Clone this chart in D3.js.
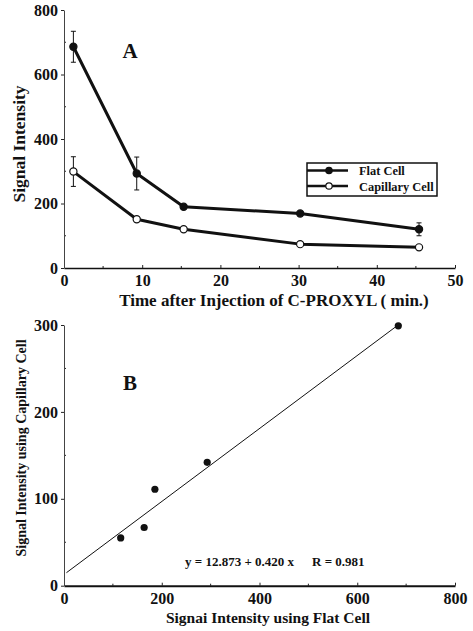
<!DOCTYPE html>
<html>
<head>
<meta charset="utf-8">
<script src="https://cdn.jsdelivr.net/npm/d3@7"></script>
<style>
  body { margin: 0; background: #fff; }
  text { font-family: "Liberation Serif", "Times New Roman", serif; font-weight: bold; fill: #111; }
</style>
</head>
<body>
<svg id="chart" width="473" height="631"></svg>
<script>
// panel A: time course
var times = [1.2, 9.3, 15.3, 30.2, 45.4]
var flatCell = [686, 293, 190, 169, 120]
var flatErr = [48, 51, 0, 0, 20]
var capCell = [299, 151, 120, 74, 64]
var capErr = [46, 8, 0, 0, 0]
var seriesNames = ["Flat Cell", "Capillary Cell"]

// panel B: capillary vs flat
var flatB = [116, 164, 186, 293, 684]
var capB = [55, 67, 111, 142, 299]
var fitIntercept = 12.873
var fitSlope = 0.420
var fitRange = [5, 686]
var eqText = "y = 12.873 + 0.420 x"
var rText = "R = 0.981"

var dims = {
    left: 64,
    right: 455,
    a: { top: 10, bottom: 268 },
    b: { top: 325, bottom: 585.7 }
}

var svg = d3.select("#chart")

function drawAxes(g, xScale, yScale, xMajor, xMinor, yMajor, yMinor, xWidth, yWidth) {
    // minor ticks, inside
    g.append("g").selectAll("line").data(xMinor).join("line")
        .attr("x1", d => xScale(d)).attr("x2", d => xScale(d))
        .attr("y1", yScale.range()[0]).attr("y2", yScale.range()[0] - 2)
        .attr("stroke", "#222").attr("stroke-width", 1)
    g.append("g").selectAll("line").data(yMinor).join("line")
        .attr("y1", d => yScale(d)).attr("y2", d => yScale(d))
        .attr("x1", xScale.range()[0]).attr("x2", xScale.range()[0] + 2)
        .attr("stroke", "#222").attr("stroke-width", 1)

    var xAxis = g.append("g")
        .attr("transform", `translate(0,${yScale.range()[0]})`)
        .call(d3.axisBottom(xScale).tickValues(xMajor).tickSizeInner(-3).tickSizeOuter(0).tickPadding(6.5))
    xAxis.select(".domain").attr("stroke", "#111").attr("stroke-width", xWidth)
    xAxis.selectAll("text").style("font-size", "16px").attr("fill", "#111")

    var yAxis = g.append("g")
        .attr("transform", `translate(${xScale.range()[0]},0)`)
        .call(d3.axisLeft(yScale).tickValues(yMajor).tickSizeInner(3).tickSizeOuter(0).tickPadding(3))
    yAxis.select(".domain").attr("stroke", "#444").attr("stroke-width", yWidth)
    yAxis.selectAll("text").style("font-size", "16px").attr("fill", "#111")
    g.selectAll(".tick line").attr("stroke", "#222")
}

// ---------- panel A ----------
var xA = d3.scaleLinear().domain([0, 50]).range([dims.left, dims.right])
var yA = d3.scaleLinear().domain([0, 800]).range([dims.a.bottom, dims.a.top])
var gA = svg.append("g")

drawAxes(gA, xA, yA, d3.range(0, 51, 10), d3.range(5, 50, 10),
    d3.range(0, 801, 200), d3.range(100, 800, 200), 1.6, 1)

var lineA = d3.line().x(d => xA(d[0])).y(d => yA(d[1]))
var seriesA = [
    { name: seriesNames[0], vals: flatCell, err: flatErr, fill: "#111" },
    { name: seriesNames[1], vals: capCell, err: capErr, fill: "#fff" }
]

seriesA.forEach(function(s) {
    var pts = times.map((t, i) => [t, s.vals[i], s.err[i]])
    gA.append("path")
        .datum(pts)
        .attr("d", lineA)
        .attr("fill", "none")
        .attr("stroke", "#111")
        .attr("stroke-width", 3)
        .attr("stroke-linejoin", "round")

    var eb = gA.append("g").selectAll("g").data(pts.filter(d => d[2] > 0)).join("g")
    eb.append("line")
        .attr("x1", d => xA(d[0])).attr("x2", d => xA(d[0]))
        .attr("y1", d => yA(d[1] - d[2])).attr("y2", d => yA(d[1] + d[2]))
        .attr("stroke", "#111").attr("stroke-width", 1)
    eb.append("line")
        .attr("x1", d => xA(d[0]) - 2.5).attr("x2", d => xA(d[0]) + 2.5)
        .attr("y1", d => yA(d[1] + d[2])).attr("y2", d => yA(d[1] + d[2]))
        .attr("stroke", "#111").attr("stroke-width", 1)
    eb.append("line")
        .attr("x1", d => xA(d[0]) - 2.5).attr("x2", d => xA(d[0]) + 2.5)
        .attr("y1", d => yA(d[1] - d[2])).attr("y2", d => yA(d[1] - d[2]))
        .attr("stroke", "#111").attr("stroke-width", 1)

    gA.append("g").selectAll("circle").data(pts).join("circle")
        .attr("cx", d => xA(d[0]))
        .attr("cy", d => yA(d[1]))
        .attr("r", 3.6)
        .attr("fill", s.fill)
        .attr("stroke", "#111")
        .attr("stroke-width", 1.2)
})

// legend
var leg = gA.append("g").attr("transform", "translate(307,163)")
leg.append("rect").attr("width", 130).attr("height", 33)
    .attr("fill", "#fff").attr("stroke", "#111").attr("stroke-width", 1.5)
seriesA.forEach(function(s, i) {
    var ly = 7.5 + i * 15.5
    leg.append("line").attr("x1", 0).attr("x2", 41).attr("y1", ly).attr("y2", ly)
        .attr("stroke", "#111").attr("stroke-width", 2.5)
    leg.append("circle").attr("cx", 22).attr("cy", ly).attr("r", 3.2)
        .attr("fill", s.fill).attr("stroke", "#111").attr("stroke-width", 1.2)
    leg.append("text").attr("x", 52).attr("y", ly + 4.5)
        .style("font-size", "12.4px").text(s.name)
})

gA.append("text").attr("x", 130).attr("y", 58).attr("text-anchor", "middle")
    .style("font-size", "21px").text("A")

gA.append("text")
    .attr("x", 274).attr("y", 306).attr("text-anchor", "middle")
    .style("font-size", "17px")
    .text("Time after Injection of C-PROXYL ( min.)")

gA.append("text")
    .attr("transform", "translate(25,144) rotate(-90)")
    .attr("text-anchor", "middle")
    .style("font-size", "17.5px")
    .text("Signal Intensity")

// ---------- panel B ----------
var xB = d3.scaleLinear().domain([0, 800]).range([dims.left, dims.right])
var yB = d3.scaleLinear().domain([0, 300]).range([dims.b.bottom, dims.b.top])
var gB = svg.append("g")

drawAxes(gB, xB, yB, d3.range(0, 801, 200), d3.range(100, 800, 200),
    d3.range(0, 301, 100), d3.range(50, 300, 100), 2, 1)

gB.append("line")
    .attr("x1", xB(fitRange[0])).attr("y1", yB(fitIntercept + fitSlope * fitRange[0]))
    .attr("x2", xB(fitRange[1])).attr("y2", yB(fitIntercept + fitSlope * fitRange[1]))
    .attr("stroke", "#111").attr("stroke-width", 1)

gB.append("g").selectAll("circle").data(flatB.map((f, i) => [f, capB[i]])).join("circle")
    .attr("cx", d => xB(d[0]))
    .attr("cy", d => yB(d[1]))
    .attr("r", 3.6)
    .attr("fill", "#111")

gB.append("text").attr("x", 130).attr("y", 390).attr("text-anchor", "middle")
    .style("font-size", "21px").text("B")

gB.append("text").attr("x", 185).attr("y", 566)
    .style("font-size", "13px").text(eqText)
gB.append("text").attr("x", 312).attr("y", 566)
    .style("font-size", "13px").text(rText)

gB.append("text")
    .attr("x", 268).attr("y", 623).attr("text-anchor", "middle")
    .style("font-size", "15.5px")
    .text("Signai Intensity using Flat Cell")

gB.append("text")
    .attr("transform", "translate(26,448) rotate(-90)")
    .attr("text-anchor", "middle")
    .style("font-size", "14px")
    .text("Signal Intensity using Capillary Cell")
</script>
</body>
</html>
